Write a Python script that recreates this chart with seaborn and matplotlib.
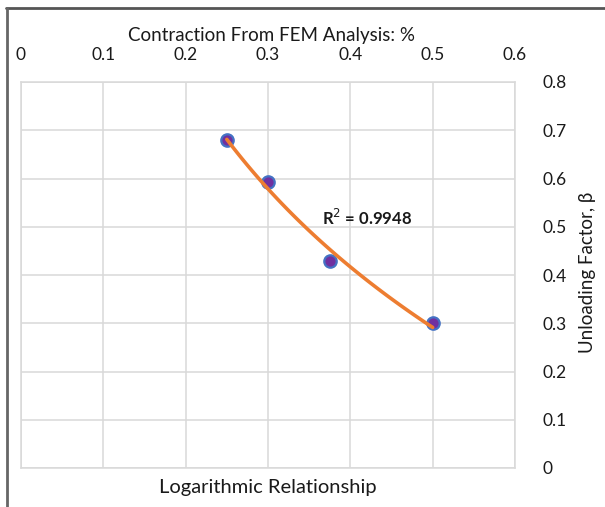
import matplotlib
matplotlib.use("Agg")
import matplotlib.pyplot as plt
import numpy as np
import pandas as pd
import seaborn as sns

# data
contraction = [0.25, 0.30, 0.375, 0.50]
unloading = [0.680, 0.593, 0.430, 0.301]
x_ticks = [0, 0.1, 0.2, 0.3, 0.4, 0.5, 0.6]
x_tick_labels = ["0", "0.1", "0.2", "0.3", "0.4", "0.5", "0.6"]
y_ticks = [0, 0.1, 0.2, 0.3, 0.4, 0.5, 0.6, 0.7, 0.8]
y_tick_labels = ["0", "0.1", "0.2", "0.3", "0.4", "0.5", "0.6", "0.7", "0.8"]
r2_text = "R$^2$ = 0.9948"

df = pd.DataFrame({"contraction": contraction, "unloading": unloading})

sns.set_theme(style="white")
plt.rcParams["font.family"] = ["Lato", "DejaVu Sans"]

W, H = 605, 507
fig = plt.figure(figsize=(W / 100, H / 100), dpi=100)
ax = fig.add_axes([21 / W, 1 - 468 / H, 494 / W, 386 / H])

# logarithmic trendline
sns.regplot(data=df, x="contraction", y="unloading", logx=True, ci=None,
            scatter=False, line_kws={"color": "#ED7D31", "lw": 2.6, "zorder": 3},
            ax=ax)
sns.scatterplot(data=df, x="contraction", y="unloading", s=80,
                color="#7030A0", edgecolor="#4472C4", linewidth=1.6,
                zorder=2, ax=ax)

ax.set_xlim(0, 0.6)
ax.set_ylim(0, 0.8)
ax.set_xticks(x_ticks)
ax.set_xticklabels(x_tick_labels)
ax.set_yticks(y_ticks)
ax.set_yticklabels(y_tick_labels)
ax.xaxis.tick_top()
ax.yaxis.tick_right()
ax.tick_params(axis="x", length=0, pad=14, labelsize=12.5, colors="#1a1a1a")
ax.tick_params(axis="y", length=0, pad=20, labelsize=12.5, colors="#1a1a1a")
for lbl in ax.get_yticklabels():
    lbl.set_horizontalalignment("left")
ax.grid(True, color="#D9D9D9", lw=1.1)
ax.set_axisbelow(True)
for s in ax.spines.values():
    s.set_color("#D9D9D9")
    s.set_linewidth(1.1)

ax.set_xlabel("")
ax.set_ylabel("")
fig.text(272 / W, 1 - 36 / H, "Contraction From FEM Analysis: %", ha="center",
         va="center", fontsize=13.5, color="#1a1a1a")
fig.text(268 / W, 1 - 488 / H, "Logarithmic Relationship", ha="center",
         va="center", fontsize=14.5, color="#1a1a1a")
fig.text(588 / W, 1 - 272 / H, "Unloading Factor, β", ha="center",
         va="center", rotation=90, fontsize=13.5, color="#1a1a1a")

ax.text(0.365, 0.518, r2_text, ha="left", va="center", fontsize=12,
        fontweight="bold", color="#1a1a1a")

# outer frame (top and left edges visible)
fig.add_artist(plt.Line2D([6 / W, 1], [1 - 8 / H, 1 - 8 / H], color="#555555",
                          lw=2, transform=fig.transFigure))
fig.add_artist(plt.Line2D([7 / W, 7 / W], [0, 1 - 8 / H], color="#666666",
                          lw=2, transform=fig.transFigure))

fig.savefig("out.png", dpi=100)
